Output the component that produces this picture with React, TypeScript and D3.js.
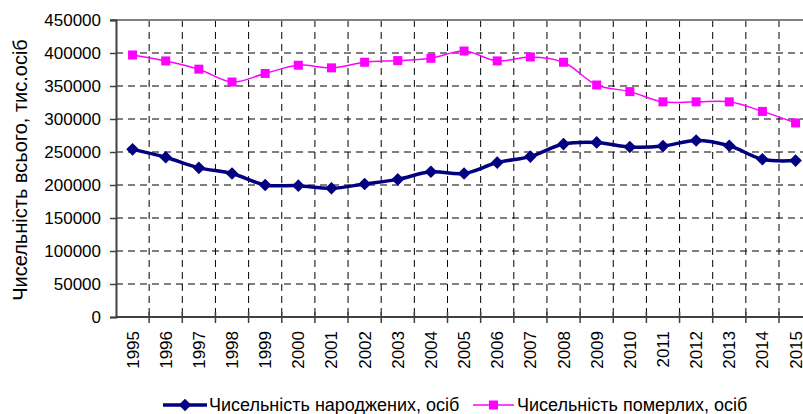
import React, { useEffect, useRef } from 'react';
import * as d3 from 'd3';

const years = ['1995', '1996', '1997', '1998', '1999', '2000', '2001', '2002', '2003', '2004', '2005',
  '2006', '2007', '2008', '2009', '2010', '2011', '2012', '2013', '2014', '2015'];

const births = [254000, 242000, 226000, 217500, 200000, 199000, 195000, 201500, 208500, 220000, 217500,
  234000, 243000, 262000, 264500, 257500, 259000, 267500, 259500, 239000, 237000];

const deaths = [397000, 388000, 375500, 356000, 369000, 381500, 377500, 386000, 388500, 392000, 403000,
  388000, 394000, 386000, 351500, 341500, 326000, 326000, 326000, 311500, 294000];

const yTicks = [0, 50000, 100000, 150000, 200000, 250000, 300000, 350000, 400000, 450000];

const birthsLabel = 'Чисельність народжених, осіб';
const deathsLabel = 'Чисельність померлих, осіб';
const yTitle = 'Чисельність всього, тис.осіб';

const W = 803;
const H = 414;

const App: React.FC = () => {
  const svgRef = useRef<SVGSVGElement>(null);

  useEffect(() => {
    document.body.style.margin = '0';
    if (!svgRef.current) return;
    const font = "'Liberation Sans', Arial, sans-serif";

    const margin = { top: 20, left: 116, bottom: 97 };
    const band = 33.15;
    const x = d3.scaleBand<string>()
      .domain(years)
      .range([margin.left, margin.left + band * years.length])
      .padding(0);
    const y = d3.scaleLinear()
      .domain([0, 450000])
      .range([H - margin.bottom, margin.top]);

    const svg = d3.select(svgRef.current);
    svg.selectAll('*').remove();

    const x0 = margin.left;
    const x1 = margin.left + band * years.length;
    const yb = y(0);

    // horizontal dashed grid
    svg.append('g')
      .selectAll('line')
      .data(yTicks.filter(t => t > 0 && t < 450000))
      .enter()
      .append('line')
      .attr('x1', x0).attr('x2', x1)
      .attr('y1', d => y(d)).attr('y2', d => y(d))
      .attr('stroke', '#000')
      .attr('stroke-width', 1)
      .attr('stroke-dasharray', '7,5');

    // vertical dashed grid at category boundaries
    svg.append('g')
      .selectAll('line')
      .data(years.slice(1))
      .enter()
      .append('line')
      .attr('x1', d => x(d)!).attr('x2', d => x(d)!)
      .attr('y1', y(450000)).attr('y2', yb)
      .attr('stroke', '#000')
      .attr('stroke-width', 1)
      .attr('stroke-dasharray', '7,5');

    // top border
    svg.append('line')
      .attr('x1', x0 - 6).attr('x2', x1)
      .attr('y1', y(450000)).attr('y2', y(450000))
      .attr('stroke', '#808080')
      .attr('stroke-width', 2);

    // y axis
    const yAxis = svg.append('g')
      .attr('transform', `translate(${x0},0)`)
      .call(d3.axisLeft(y).tickValues(yTicks).tickSize(6).tickPadding(9).tickFormat(d => String(d)));
    yAxis.select('.domain').attr('stroke', '#404040').attr('stroke-width', 2);
    yAxis.selectAll('.tick line').attr('stroke', '#404040').attr('stroke-width', 1.5);
    yAxis.selectAll('text')
      .style('font-family', font)
      .style('font-size', '17px')
      .attr('fill', '#000');

    // x axis
    svg.append('line')
      .attr('x1', x0).attr('x2', x1)
      .attr('y1', yb).attr('y2', yb)
      .attr('stroke', '#404040')
      .attr('stroke-width', 2);
    svg.append('g')
      .selectAll('line')
      .data(years)
      .enter()
      .append('line')
      .attr('x1', d => x(d)! + band).attr('x2', d => x(d)! + band)
      .attr('y1', yb - 5).attr('y2', yb + 6)
      .attr('stroke', '#404040')
      .attr('stroke-width', 1.5);

    svg.append('g')
      .selectAll('text')
      .data(years)
      .enter()
      .append('text')
      .attr('transform', d => `translate(${x(d)! + band / 2 + 6},${yb + 14}) rotate(-90)`)
      .attr('text-anchor', 'end')
      .style('font-family', font)
      .style('font-size', '17px')
      .text(d => d);

    // y title
    svg.append('text')
      .attr('transform', `translate(27,170) rotate(-90)`)
      .attr('text-anchor', 'middle')
      .style('font-family', font)
      .style('font-size', '20px')
      .text(yTitle);

    const line = d3.line<number>()
      .x((_, i) => x(years[i])! + band / 2)
      .y(d => y(d))
      .curve(d3.curveCatmullRom.alpha(0.5));

    // deaths
    svg.append('path')
      .attr('d', line(deaths)!)
      .attr('fill', 'none')
      .attr('stroke', '#ff00ff')
      .attr('stroke-width', 1.5);
    svg.append('g')
      .selectAll('rect')
      .data(deaths)
      .enter()
      .append('rect')
      .attr('x', (_, i) => x(years[i])! + band / 2 - 4.5)
      .attr('y', d => y(d) - 4.5)
      .attr('width', 9).attr('height', 9)
      .attr('fill', '#ff00ff');

    // births
    svg.append('path')
      .attr('d', line(births)!)
      .attr('fill', 'none')
      .attr('stroke', '#000080')
      .attr('stroke-width', 3.5);
    const diamond = d3.symbol().type(d3.symbolSquare).size(80);
    svg.append('g')
      .selectAll('path')
      .data(births)
      .enter()
      .append('path')
      .attr('d', diamond()!)
      .attr('transform', (d, i) => `translate(${x(years[i])! + band / 2},${y(d)}) rotate(45)`)
      .attr('fill', '#000080');

    // legend
    const ly = 405;
    const lg = svg.append('g');
    lg.append('line').attr('x1', 163).attr('x2', 207).attr('y1', ly).attr('y2', ly)
      .attr('stroke', '#000080').attr('stroke-width', 3.5);
    lg.append('path').attr('d', diamond()!).attr('transform', `translate(185,${ly}) rotate(45)`)
      .attr('fill', '#000080');
    lg.append('text').attr('x', 209).attr('y', ly + 6)
      .style('font-family', font).style('font-size', '18px').text(birthsLabel);
    lg.append('line').attr('x1', 473).attr('x2', 514).attr('y1', ly).attr('y2', ly)
      .attr('stroke', '#ff00ff').attr('stroke-width', 1.5);
    lg.append('rect').attr('x', 489).attr('y', ly - 4.5).attr('width', 9).attr('height', 9)
      .attr('fill', '#ff00ff');
    lg.append('text').attr('x', 517).attr('y', ly + 6)
      .style('font-family', font).style('font-size', '18px').text(deathsLabel);
  }, []);

  return <svg ref={svgRef} width={W} height={H} style={{ display: 'block', background: '#fff' }} />;
};

export default App;
